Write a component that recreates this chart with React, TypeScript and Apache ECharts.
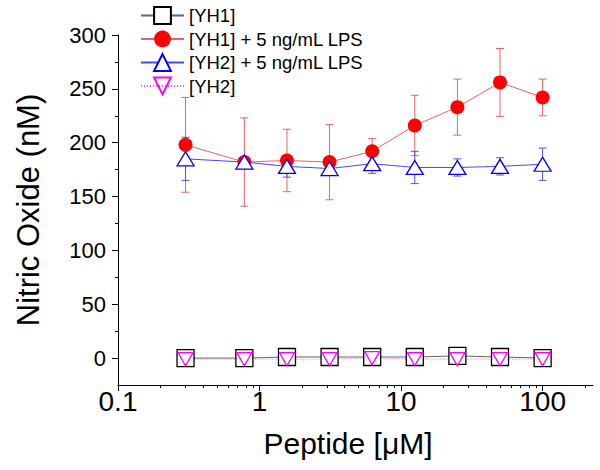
import React, { useEffect, useRef } from "react";
import * as echarts from "echarts";

const peptide = [0.3, 0.78125, 1.5625, 3.125, 6.25, 12.5, 25, 50, 100];
const yh1 = [0, 0, 1, 1, 1, 1, 2, 1, 0];
const yh1Err = [1, 2, 2, 2, 2, 2, 2, 2, 2];
const yh1Lps = [198, 182, 183.5, 182, 192, 216, 233, 256, 242];
const yh1LpsErr = [44, 41, 29, 35, 12, 28, 26, 31.5, 17];
const yh2Lps = [185, 182, 178, 176, 180.5, 177, 177, 178, 180];
const yh2LpsErr = [20, 5, 10, 6, 9, 15, 8, 8, 15];
const yh2 = [-1, -1, -1, -1, 0, -1, -1, -1, -1];
const yh2Err = [1, 1, 2, 2, 2, 2, 2, 2, 2];

const xMajor = [0.1, 1, 10, 100];
const xMinor = [0.2, 0.3, 0.4, 0.5, 0.6, 0.7, 0.8, 0.9, 2, 3, 4, 5, 6, 7, 8, 9, 20, 30, 40, 50, 60, 70, 80, 90, 200];
const yMajor = [0, 50, 100, 150, 200, 250, 300];
const yMinor = [25, 75, 125, 175, 225, 275];

const FONT = '"Liberation Sans", Arial, sans-serif';

function errData(vals: number[], errs: number[]) {
  return peptide.map((x, i) => [x, vals[i] - errs[i], vals[i] + errs[i]]);
}
function lineData(vals: number[]) {
  return peptide.map((x, i) => [x, vals[i]]);
}

function errSeries(vals: number[], errs: number[], color: string) {
  return {
    type: "custom",
    data: errData(vals, errs),
    encode: { x: 0, y: [1, 2] },
    silent: true,
    renderItem: (params: any, api: any) => {
      const x = api.value(0);
      const lo = api.value(1);
      const hi = api.value(2);
      const p1 = api.coord([x, hi]);
      const p2 = api.coord([x, lo]);
      const w = 4;
      const style = { stroke: color, lineWidth: 1 };
      return {
        type: "group",
        children: [
          { type: "line", shape: { x1: p1[0], y1: p1[1], x2: p2[0], y2: p2[1] }, style },
          { type: "line", shape: { x1: p1[0] - w, y1: p1[1], x2: p1[0] + w, y2: p1[1] }, style },
          { type: "line", shape: { x1: p2[0] - w, y1: p2[1], x2: p2[0] + w, y2: p2[1] }, style },
        ],
      };
    },
  };
}

export default function App() {
  const ref = useRef<HTMLDivElement>(null);
  useEffect(() => {
    if (!ref.current) return;
    const chart = echarts.init(ref.current, null, { renderer: "svg" });
    const axisCommon = {
      axisLine: { onZero: false, lineStyle: { color: "#000", width: 1 } },
      splitLine: { show: false },
    };
    chart.setOption({
      animation: false,
      backgroundColor: "#fff",
      textStyle: { fontFamily: FONT },
      grid: { left: 118, right: 7, top: 35, bottom: 85 },
      legend: {
        orient: "vertical",
        left: 135,
        top: 1,
        itemWidth: 43,
        itemHeight: 21,
        itemGap: 4.5,
        data: ["[YH1]", "[YH1] + 5 ng/mL LPS", "[YH2] + 5 ng/mL LPS", "[YH2]"],
        textStyle: { fontSize: 18.5, color: "#000", fontFamily: FONT },
      },
      xAxis: [
        {
          type: "log",
          min: 0.1,
          max: 227,
          ...axisCommon,
          axisTick: { show: true, inside: false, length: 6, customValues: xMajor, lineStyle: { color: "#000" } },
          axisLabel: { customValues: xMajor, fontSize: 28, color: "#000", margin: 2, fontFamily: FONT, formatter: (v: number) => String(v) },
          name: "Peptide [μM]",
          nameLocation: "middle",
          nameGap: 43,
          nameTextStyle: { fontSize: 30, color: "#000", fontFamily: FONT, padding: [0, 15, 0, 0] },
        },
        {
          type: "log",
          min: 0.1,
          max: 227,
          position: "bottom",
          axisLine: { show: false, onZero: false },
          splitLine: { show: false },
          axisTick: { show: true, inside: false, length: 3, customValues: xMinor, lineStyle: { color: "#000" } },
          axisLabel: { show: false },
        },
      ],
      yAxis: [
        {
          type: "value",
          min: -25,
          max: 300,
          ...axisCommon,
          axisTick: { show: true, inside: false, length: 6, customValues: yMajor, lineStyle: { color: "#000" } },
          axisLabel: { customValues: yMajor, fontSize: 22, color: "#000", margin: 12, fontFamily: FONT },
          name: "Nitric Oxide (nM)",
          nameLocation: "middle",
          nameGap: 74,
          nameTextStyle: { fontSize: 31, color: "#000", fontFamily: FONT },
        },
        {
          type: "value",
          min: -25,
          max: 300,
          position: "left",
          axisLine: { show: false, onZero: false },
          splitLine: { show: false },
          axisTick: { show: true, inside: false, length: 3, customValues: yMinor, lineStyle: { color: "#000" } },
          axisLabel: { show: false },
        },
      ],
      series: [
        errSeries(yh1, yh1Err, "#606060"),
        {
          name: "[YH1]",
          type: "line",
          data: lineData(yh1),
          symbol: "rect",
          symbolSize: 17,
          lineStyle: { color: "#666", width: 1 },
          itemStyle: { color: "#fff", borderColor: "#000", borderWidth: 1.3 },
        },
        errSeries(yh1Lps, yh1LpsErr, "#f06060"),
        {
          name: "[YH1] + 5 ng/mL LPS",
          type: "line",
          data: lineData(yh1Lps),
          symbol: "circle",
          symbolSize: 14,
          lineStyle: { color: "#f06060", width: 1 },
          itemStyle: { color: "#ff0000", borderColor: "#ff0000", borderWidth: 0 },
        },
        errSeries(yh2Lps, yh2LpsErr, "#5050e8"),
        {
          name: "[YH2] + 5 ng/mL LPS",
          type: "line",
          data: lineData(yh2Lps),
          symbol: "triangle",
          symbolSize: [17, 14],
          lineStyle: { color: "#4848f0", width: 1 },
          itemStyle: { color: "#fff", borderColor: "#0000ff", borderWidth: 1.3 },
        },
        errSeries(yh2, yh2Err, "#f080f0"),
        {
          name: "[YH2]",
          type: "line",
          data: lineData(yh2),
          symbol: "triangle",
          symbolRotate: 180,
          symbolSize: [15, 13],
          lineStyle: { color: "#ff40ff", width: 1, type: [1, 2] },
          itemStyle: { color: "rgba(255,255,255,0)", borderColor: "#ff00ff", borderWidth: 1.3 },
        },
      ],
    });
    return () => chart.dispose();
  }, []);
  return <div ref={ref} style={{ width: 600, height: 470, position: "absolute", left: 0, top: 0 }} />;
}
